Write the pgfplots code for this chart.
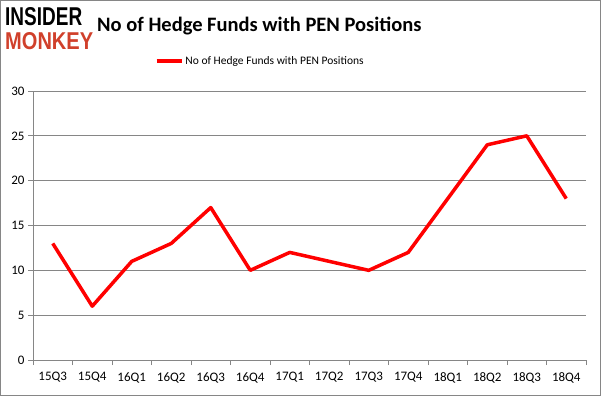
\documentclass[border=0pt]{standalone}
\usepackage{pgfplots}
\pgfplotsset{compat=1.18}
\usepackage{fontspec}
\setmainfont{Carlito}
\newfontfamily\logofont{Liberation Sans}
\definecolor{gridgray}{HTML}{868686}
\definecolor{logored}{HTML}{D0402B}
\begin{document}
\begin{tikzpicture}[x=1pt,y=1pt]
\draw[gridgray, line width=1pt] (0.5,0.5) rectangle (600.5,395.5);
\node[anchor=north west, inner sep=0pt] at (5,389) {\resizebox{77pt}{18pt}{\logofont\bfseries INSIDER}};
\node[anchor=north west, inner sep=0pt] at (5,364) {\resizebox{88pt}{17pt}{\logofont\bfseries\color{logored}MONKEY}};
\node[anchor=base west, inner sep=0pt, font=\fontsize{20.5}{24}\selectfont\bfseries] at (97,364) {No of Hedge Funds with PEN Positions};
\begin{axis}[
  at={(33pt,36pt)}, anchor=south west,
  scale only axis, width=553pt, height=269pt,
  xmin=-0.5, xmax=13.5, ymin=0, ymax=30,
  axis lines*=left,
  axis line style={gridgray, line width=0.8pt, -},
  xtick={0,...,13},
  xticklabels={15Q3,15Q4,16Q1,16Q2,16Q3,16Q4,17Q1,17Q2,17Q3,17Q4,18Q1,18Q2,18Q3,18Q4},
  minor xtick={-0.5,0.5,...,13.5},
  major x tick style={draw=none},
  minor x tick style={gridgray, line width=0.8pt},
  ytick={0,5,...,30},
  ytick style={gridgray, line width=0.8pt},
  tick align=outside,
  major tick length=5pt, minor tick length=5pt,
  ymajorgrids,
  grid style={gridgray, line width=0.8pt},
  tick label style={font=\fontsize{13}{15}\selectfont},
  /pgf/number format/assume math mode=true,
  xticklabel style={yshift=-4pt},
  legend style={at={(0.411,1.111)}, anchor=center, draw=none, fill=none, inner sep=0pt,
    font=\fontsize{11.5}{13}\selectfont},
  legend image code/.code={\draw[red, line width=3.5pt] (0pt,0pt) -- (25pt,0pt);},
  clip=false,
]
\addplot[red, line width=3.5pt, line join=round] coordinates {
(0,13) (1,6) (2,11) (3,13) (4,17) (5,10) (6,12) (7,11) (8,10) (9,12) (10,18) (11,24) (12,25) (13,18)};
\addlegendentry{No of Hedge Funds with PEN Positions}
\end{axis}
\end{tikzpicture}
\end{document}
